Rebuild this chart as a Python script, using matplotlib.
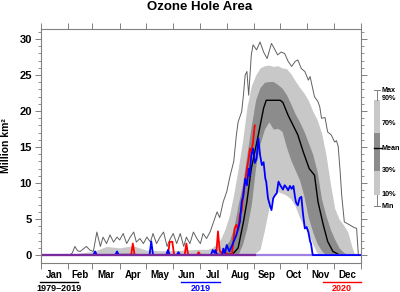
import numpy as np
import matplotlib
matplotlib.use("Agg")
import matplotlib.pyplot as plt
from matplotlib.patches import Rectangle
from matplotlib.lines import Line2D

plt.rcParams['font.family'] = ['Liberation Sans', 'DejaVu Sans']
plt.rcParams['font.weight'] = 'bold'

# ---------------- data ----------------
months = ["Jan", "Feb", "Mar", "Apr", "May", "Jun", "Jul", "Aug", "Sep", "Oct", "Nov", "Dec"]
month_edges = [0, 31, 59, 90, 120, 151, 181, 212, 243, 273, 304, 334, 365]

band_days = [0, 30, 45, 60, 75, 90, 105, 120, 135, 150, 165, 180, 190, 195, 200, 205, 210,
             215, 220, 225, 230, 235, 240, 245, 250, 255, 260, 265, 270, 275, 280, 285, 290,
             295, 300, 305, 310, 315, 320, 325, 330, 335, 340, 345, 350, 355, 358, 365]
p90 = [0, 0, 0.3, 0.5, 1.2, 1.0, 1.3, 0.7, 0.6, 0.6, 0.7, 0.8, 0.8, 1.0, 1.5, 2.2, 3.6,
       5.5, 8.5, 12.0, 15.8, 20.5, 23.5, 25.0, 26.0, 26.3, 26.4, 26.2, 26.3, 26.0, 25.9, 25.2, 24.2,
       23.3, 22.5, 21.5, 20.0, 18.8, 17.0, 14.0, 10.0, 6.5, 5.0, 4.2, 3.2, 1.0, 0, 0]
p70 = [0, 0, 0, 0, 0.2, 0.3, 0.3, 0.1, 0, 0, 0, 0, 0, 0.1, 0.3, 0.6, 1.2,
       2.0, 3.8, 7.0, 9.8, 14.0, 18.0, 21.6, 23.3, 24.0, 24.1, 24.1, 23.7, 23.2, 22.3, 21.0, 19.6,
       18.5, 17.2, 15.6, 14.0, 11.6, 7.8, 5.5, 3.6, 2.2, 1.0, 0.4, 0, 0, 0, 0]
p30 = [0, 0, 0, 0, 0, 0, 0, 0, 0, 0, 0, 0, 0, 0, 0, 0, 0,
       0, 0, 0.1, 1.5, 3.8, 7.0, 12.3, 15.5, 17.5, 18.5, 17.5, 17.6, 17.2, 15.0, 13.2, 11.8,
       10.4, 8.2, 5.2, 3.2, 1.6, 0.6, 0, 0, 0, 0, 0, 0, 0, 0, 0]
p10 = [0, 0, 0, 0, 0, 0, 0, 0, 0, 0, 0, 0, 0, 0, 0, 0, 0,
       0, 0, 0, 0, 0, 0, 0.3, 0.8, 3.5, 6.5, 8.0, 8.8, 8.6, 8.3, 7.8, 6.8,
       5.2, 4.0, 3.0, 1.5, 0.3, 0, 0, 0, 0, 0, 0, 0, 0, 0, 0]

mean_days = [0, 200, 215, 220, 225, 231, 235, 240, 248, 254, 257, 273, 276, 282, 293, 299,
             306, 312, 316, 322, 327, 333, 341, 365]
mean_vals = [0.05, 0.05, 0.1, 0.3, 1.0, 4.6, 7.4, 12.0, 16.7, 20.4, 21.5, 21.5, 21.2, 19.4, 16.7, 14.4,
             12.0, 11.1, 7.4, 4.2, 1.9, 0.5, 0, 0]

max_days = [0, 33, 36, 39, 42, 45, 49, 52, 56, 60, 64, 68, 71, 75, 79, 83, 87, 90, 94, 98,
            102, 106, 109, 113, 117, 121, 125, 128, 132, 136, 140, 144, 147, 151, 155, 159,
            163, 166, 170, 174, 178, 182, 185, 189, 193, 197, 201, 204, 208, 212, 216, 220,
            223, 225, 229, 231, 233, 235, 237, 240, 242, 246, 250, 254, 258, 263, 267, 270,
            274, 278, 282, 286, 290, 293, 297, 301, 305, 307, 310, 312, 316, 318, 320, 324,
            327, 331, 335, 337, 339, 341, 343, 346, 352, 356, 360, 362, 365]
max_vals = [0, 0, 0.3, 1.2, 0.6, 0.5, 0.9, 1.2, 0.7, 0.5, 3.2, 1.2, 2.5, 1.6, 2.8, 1.8, 2.5, 2.1, 3.0, 1.6,
            2.5, 3.2, 1.8, 2.3, 1.6, 2.5, 1.8, 3.0, 1.6, 2.5, 3.2, 1.2, 2.1, 3.0, 1.6, 3.0,
            1.2, 2.5, 1.6, 3.2, 2.3, 1.6, 3.0, 2.3, 3.2, 4.6, 6.0, 5.2, 7.4, 8.8, 11.1, 13.0,
            16.7, 18.5, 19.9, 22.2, 25.0, 25.5, 22.2, 27.8, 29.2, 28.5, 29.6, 28.2, 27.3, 29.4, 28.5, 27.8,
            28.2, 28.0, 26.9, 26.2, 26.9, 27.1, 25.9, 25.5, 24.3, 24.8, 23.1, 22.0, 21.3, 20.6, 19.0, 19.1,
            17.1, 16.7, 15.7, 15.9, 15.1, 12.0, 8.3, 4.6, 4.2, 3.9, 3.7, 0, 0]

min_days = [0, 365]
min_vals = [0, 0]

y2019_days = [0, 60, 62, 64, 85, 87, 89, 124, 126, 128, 143, 145, 147, 155, 157, 159, 194, 196,
              198, 199, 201, 207, 208, 210, 212, 215, 219, 223, 227, 229, 231, 233, 235, 237,
              238, 240, 242, 244, 246, 248, 250, 252, 254, 256, 257, 259, 261, 263, 265, 267,
              269, 271, 273, 276, 278, 280, 282, 284, 286, 288, 290, 291, 293, 295, 297, 299,
              301, 303, 305, 307, 308, 310, 365]
y2019_vals = [0, 0, 0.5, 0, 0, 0.5, 0, 0, 1.9, 0, 0, 0.7, 0, 0, 0.4, 0, 0, 0.7,
              0.3, 0.7, 0, 0, 0.9, 0.3, 1.4, 0.5, 1.6, 2.8, 4.6, 7.4, 8.3, 10.6, 9.7, 12.0,
              11.0, 13.9, 14.8, 12.8, 13.4, 16.2, 13.9, 12.5, 12.9, 10.6, 10.2, 7.9, 7.0, 6.25, 7.9, 8.3,
              8.6, 10.2, 9.7, 9.1, 9.7, 9.4, 9.0, 9.6, 9.2, 9.6, 7.9, 7.3, 6.9, 7.9, 8.1, 5.6,
              3.7, 3.9, 3.2, 1.9, 1.6, 0, 0]

y2020_days = [0, 103, 105, 107, 145, 147, 150, 152, 164, 166, 168, 178, 180, 182, 200, 202,
              204, 206, 209, 214, 218, 219.5, 221, 223, 225, 227, 229, 231, 233, 235, 237,
              238.5, 240, 242, 243.5, 244]
y2020_vals = [0, 0, 1.6, 0, 0, 1.85, 1.85, 0, 0, 1.6, 0, 0, 0.4, 0, 0, 3.3,
              0.6, 0.3, 0.5, 0, 0.2, 1.9, 3.7, 4.2, 3.5, 5.6, 6.2, 8.8, 10.2, 12.0, 13.4,
              14.8, 14.2, 15.7, 17.6, 18.0]

legend_labels = ["Max", "90%", "70%", "Mean", "30%", "10%", "Min"]
period_labels = ["1979\u20132019", "2019", "2020"]

# ---------------- figure ----------------
W, H = 400, 292
fig = plt.figure(figsize=(W / 100, H / 100), dpi=100)
ax = fig.add_axes([40.7 / W, 1 - 263 / H, (361 - 40.7) / W, (263 - 29) / H])

light = '#c8c8c8'
dark = '#8c8c8c'
ax.fill_between(band_days, p10, p90, color=light, lw=0)
ax.fill_between(band_days, p30, p70, color=dark, lw=0)
ax.plot(max_days, max_vals, color='#606060', lw=0.7)
ax.plot(mean_days, mean_vals, color='black', lw=1.0)
ax.plot(min_days, min_vals, color='#a080e0', lw=1.6)
ax.plot(y2020_days, y2020_vals, color='#ff0000', lw=1.3)
ax.plot(y2019_days, y2019_vals, color='#0000ff', lw=1.3)
# overlap of both years at zero appears purple
ax.plot([y2020_days[0], y2020_days[-1]], [0, 0], color='#7a2a9a', lw=1.6)

ax.set_xlim(0, 365)
ax.set_ylim(-1.1, 31.4)

gray = '#808080'
for s in ax.spines.values():
    s.set_color(gray)
    s.set_linewidth(0.8)

ax.set_xticks(month_edges)
ax.set_xticklabels([])
centers = [(a + b) / 2 for a, b in zip(month_edges[:-1], month_edges[1:])]
ax.set_xticks(centers, minor=True)
ax.set_xticklabels(months, minor=True, fontsize=7, fontweight='bold')
ax.tick_params(axis='x', which='major', direction='out', length=4, width=0.7,
               color=gray, top=True, bottom=True)
ax.tick_params(axis='x', which='minor', length=0, pad=5)

ax.set_yticks(np.arange(0, 31, 5))
ax.set_yticks(np.arange(0, 32, 1), minor=True)
ax.tick_params(axis='y', which='major', direction='out', length=4.5, width=0.7,
               color=gray, left=True, right=True, labelsize=8, pad=2)
ax.tick_params(axis='y', which='minor', direction='out', length=2.2, width=0.6,
               color=gray, left=True, right=True)
for lab in ax.get_yticklabels():
    lab.set_fontweight('bold')

ax.set_ylabel("Million km\u00b2", fontsize=7.5, fontweight='bold', labelpad=6)

fig.text(0.5, 1 - 7 / H, "Ozone Hole Area", ha='center', va='center',
         fontsize=9.5, fontweight='bold')

# ---------------- legend bar on the right ----------------
def F(px, py):
    return (px / W, 1 - py / H)

tf = fig.transFigure
bx0, bx1 = 374, 380
bxc = (bx0 + bx1) / 2
ys = {"Max": 90, "90%": 100, "70%": 124, "Mean": 148, "30%": 171, "10%": 195, "Min": 206}
dark_top = 133
x, y = F(bx0, ys["10%"])
fig.add_artist(Rectangle((x, y), (bx1 - bx0) / W, (ys["10%"] - ys["90%"]) / H,
                         transform=tf, color=light, lw=0))
x, y = F(bx0, ys["30%"])
fig.add_artist(Rectangle((x, y), (bx1 - bx0) / W, (ys["30%"] - dark_top) / H,
                         transform=tf, color=dark, lw=0))
for a, b in [(ys["Max"], ys["90%"]), (ys["10%"], ys["Min"])]:
    fig.add_artist(Line2D([bxc / W, bxc / W], [1 - a / H, 1 - b / H], transform=tf,
                          color=gray, lw=0.7))
for k in ["Max", "Min"]:
    fig.add_artist(Line2D([bx0 / W, bx1 / W], [1 - ys[k] / H] * 2, transform=tf,
                          color=gray, lw=0.7))
fig.add_artist(Line2D([bx0 / W, (bx1 + 2) / W], [1 - ys["Mean"] / H] * 2, transform=tf,
                      color='black', lw=1.0))
label_y = {"Max": 90, "90%": 99, "70%": 124, "Mean": 148, "30%": 171, "10%": 194, "Min": 206}
for lab in legend_labels:
    fig.text(381.5 / W, 1 - label_y[lab] / H, lab, ha='left', va='center',
             fontsize=5.2, fontweight='bold')

# ---------------- period annotations ----------------
periods = [(period_labels[0], 40, 78, 'black'),
           (period_labels[1], 181, 220, '#0000ff'),
           (period_labels[2], 323, 361, '#ff0000')]
for txt, x0, x1, c in periods:
    fig.add_artist(Line2D([x0 / W, x1 / W], [1 - 282 / H] * 2, transform=tf, color=c, lw=1.0))
    fig.text((x0 + x1) / 2 / W, 1 - 288.5 / H, txt, ha='center', va='center',
             fontsize=6.5, fontweight='bold', color=c)

fig.savefig("out.png", dpi=100)
